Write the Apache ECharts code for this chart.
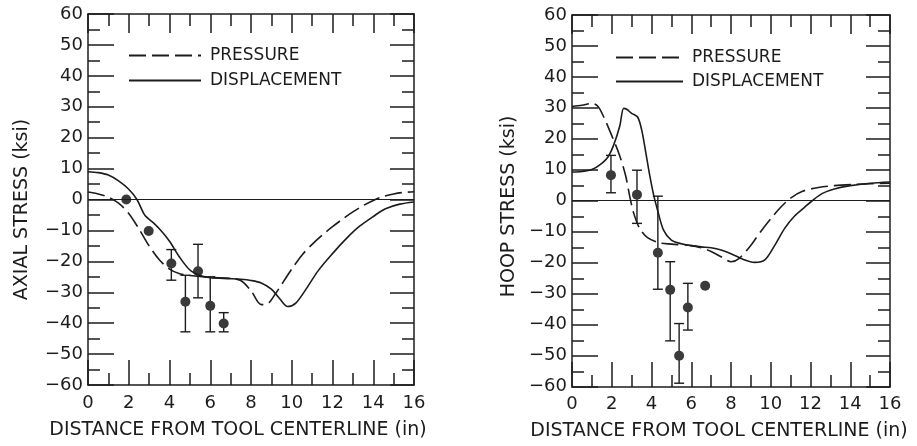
<!DOCTYPE html>
<html>
<head>
<meta charset="utf-8">
<script src="https://cdn.jsdelivr.net/npm/echarts@6/dist/echarts.min.js"></script>
<style>
  body { margin: 0; background: #fff; }
  .panel { position: relative; width: 458px; height: 446px; float: left; }
  #hoop { width: 459px; }
  .layer { position: absolute; left: 0; top: 0; width: 100%; height: 100%; }
</style>
</head>
<body>
<div id="axial" class="panel"></div>
<div id="hoop" class="panel"></div>
<script>
// values (x in inches, stress in ksi)
var axialPressure = [[0, 2.4], [0.5, 1.8], [1.0, 0.8], [1.5, -1.2], [2.0, -4.5], [2.5, -9.5], [3.0, -15], [3.5, -19.5], [4.0, -22.5], [4.5, -24], [5.0, -24.6], [6.0, -25.2], [7.0, -25.5], [7.5, -26.2], [8.0, -29.5], [8.5, -34], [8.8, -33.8], [9.2, -30.5], [9.6, -26.5], [10.0, -22.5], [10.5, -18], [11.0, -14.5], [11.5, -11.5], [12.0, -8.8], [12.5, -6.3], [13.0, -4.0], [13.5, -2], [14.0, -0.3], [14.5, 1.0], [15.0, 1.8], [15.5, 2.3], [16.0, 2.5]];
var axialDisplacement = [[0, 9], [0.5, 8.7], [1.0, 7.9], [1.5, 6], [2.0, 3.3], [2.4, 0], [2.8, -5.2], [3.2, -7.5], [3.6, -10.2], [4.0, -13.5], [4.5, -18.7], [5.0, -22.8], [5.5, -24.6], [6.0, -25.3], [7.0, -25.6], [7.5, -25.8], [8.0, -26.2], [8.5, -27], [9.0, -29], [9.4, -32], [9.8, -34.6], [10.2, -33.5], [10.7, -29], [11.3, -23], [12.0, -17.5], [12.7, -12.5], [13.3, -8.8], [14.0, -5.5], [14.6, -3], [15.3, -1.5], [16.0, -0.8]];
var axialTestX = [1.88, 2.98, 4.09, 4.78, 5.4, 6.0, 6.66];
var axialTestY = [0, -10.2, -20.7, -33.1, -23.2, -34.4, -40.1];
var axialTestLo = [null, null, -26.1, -42.8, -31.8, -42.8, -42.8];
var axialTestHi = [null, null, -16.2, -24.5, -14.5, -25, -36.6];

var hoopPressure = [[0, 30.4], [0.5, 30.8], [1.0, 31.4], [1.3, 30.5], [1.6, 27], [2.0, 21], [2.4, 14.5], [2.7, 8], [2.9, 1.5], [3.1, -4], [3.4, -9], [3.8, -12], [4.4, -13.7], [5.0, -14.1], [6.0, -14.6], [6.5, -15.3], [7.0, -16.5], [7.5, -18.2], [8.0, -19.8], [8.4, -18.8], [9.0, -14.5], [9.5, -10], [10.0, -5.9], [10.5, -2.2], [11.0, 0.8], [11.6, 3], [12.4, 4.2], [13.2, 4.8], [14.2, 5.2], [15.0, 5.4], [16.0, 5.6]];
var hoopDisplacement = [[0, 9.2], [0.5, 9.4], [1.0, 10], [1.4, 11.5], [1.8, 14], [2.1, 18], [2.4, 24], [2.6, 29.8], [2.75, 29.5], [3.0, 28.2], [3.3, 27], [3.5, 23], [3.7, 16], [3.9, 8.5], [4.1, 2], [4.3, -3], [4.6, -9.5], [5.0, -12.8], [5.5, -14], [6.0, -14.6], [6.5, -15], [7.0, -15.3], [7.5, -16], [8.0, -17.2], [8.6, -19], [9.2, -20], [9.7, -19.2], [10.2, -14.5], [10.7, -9], [11.2, -5], [11.7, -2.2], [12.1, 0], [12.6, 2.3], [13.2, 3.7], [14.0, 4.8], [15.0, 5.6], [16.0, 6.0]];
var hoopTestX = [1.96, 3.27, 4.32, 4.94, 5.39, 5.83, 6.7];
var hoopTestY = [8.2, 1.9, -16.9, -28.9, -50.2, -34.6, -27.6];
var hoopTestLo = [2.5, -7.4, -28.7, -45.4, -59.1, -41.9, null];
var hoopTestHi = [14.6, 9.8, 1.4, -19.8, -39.8, -26.8, null];

var xRange = [0, 16], xStep = 2;
var yRange = [-60, 60], yStep = 10;
var xTitle = 'DISTANCE FROM TOOL CENTERLINE (in)';
var legendNames = ['PRESSURE', 'DISPLACEMENT'];

var ink = '#1c1c1c';
var font = 'DejaVu Sans';

function minus(v) { return String(v).replace('-', '\u2212'); }

// frame layer: only the box and the inward ticks
function frameAxis(dim, pos, major) {
  var x = dim === 'x';
  return {
    type: 'value', position: pos,
    min: x ? xRange[0] : yRange[0], max: x ? xRange[1] : yRange[1], interval: x ? xStep : yStep,
    axisLine: { show: true, onZero: false, lineStyle: { color: ink, width: 1.5 } },
    axisTick: { show: true, inside: true, length: major, lineStyle: { color: ink, width: 1.5 } },
    minorTick: { show: true, splitNumber: 2, length: 12, lineStyle: { color: ink, width: 1.5 } },
    splitLine: { show: false },
    axisLabel: { show: false }
  };
}

// marks layer: labels and titles, no lines
function labelAxis(dim, pos, name, gap, pad) {
  var x = dim === 'x';
  return {
    type: 'value', position: pos,
    min: x ? xRange[0] : yRange[0], max: x ? xRange[1] : yRange[1], interval: x ? xStep : yStep,
    axisLine: { show: false, onZero: false },
    axisTick: { show: false },
    splitLine: { show: false },
    axisLabel: { color: ink, fontFamily: font, fontSize: 18, margin: x ? 9 : 5, formatter: minus },
    name: name, nameLocation: 'middle', nameGap: gap,
    nameTextStyle: { color: ink, fontFamily: font, fontSize: 19, padding: pad }
  };
}

function errorData(xs, lo, hi) {
  var out = [];
  for (var i = 0; i < xs.length; i++) {
    if (lo[i] !== null) out.push([xs[i], lo[i], hi[i]]);
  }
  return out;
}

function zip(xs, ys) {
  var out = [];
  for (var i = 0; i < xs.length; i++) out.push([xs[i], ys[i]]);
  return out;
}

function drawPanel(id, p) {
  var box = document.getElementById(id);
  var under = document.createElement('div');
  var over = document.createElement('div');
  under.className = 'layer';
  over.className = 'layer';
  box.appendChild(under);
  box.appendChild(over);

  echarts.init(under).setOption({
    animation: false,
    grid: p.grid,
    xAxis: [frameAxis('x', 'bottom', 25), frameAxis('x', 'top', 19)],
    yAxis: [frameAxis('y', 'left', 26), frameAxis('y', 'right', 24)],
    series: [{ type: 'line', data: [] }]
  });

  echarts.init(over).setOption({
    animation: false,
    grid: p.grid,
    xAxis: labelAxis('x', 'bottom', xTitle, 36, p.xPad),
    yAxis: labelAxis('y', 'left', p.yTitle, p.yGap, p.yPad),
    legend: {
      data: legendNames, orient: 'vertical', left: p.legend[0], top: p.legend[1],
      itemWidth: p.legend[2], itemHeight: 14, itemGap: p.legend[3], selectedMode: false,
      itemStyle: { opacity: 0 },
      textStyle: { color: ink, fontFamily: font, fontSize: 17, padding: [0, 0, 0, 4] }
    },
    series: [
      {
        name: 'PRESSURE', type: 'line',
        data: p.pressure, smooth: 0.3, symbol: 'none',
        itemStyle: { color: ink },
        lineStyle: { color: ink, width: 1.6, type: [17, 6] },
        markLine: {
          silent: true, symbol: ['none', 'none'], label: { show: false },
          lineStyle: { color: ink, width: 1, type: 'solid' },
          data: [{ yAxis: 0 }]
        }
      },
      {
        name: 'DISPLACEMENT', type: 'line',
        data: p.displacement, smooth: 0.3, symbol: 'none',
        itemStyle: { color: ink },
        lineStyle: { color: ink, width: 1.6, type: 'solid' }
      },
      {
        type: 'custom',
        data: errorData(p.tx, p.lo, p.hi),
        encode: { x: 0, y: [1, 2] },
        renderItem: function (params, api) {
          var a = api.coord([api.value(0), api.value(1)]);
          var b = api.coord([api.value(0), api.value(2)]);
          var w = 5, st = { stroke: ink, lineWidth: 1.4 };
          return {
            type: 'group',
            children: [
              { type: 'line', shape: { x1: a[0], y1: a[1], x2: b[0], y2: b[1] }, style: st },
              { type: 'line', shape: { x1: a[0] - w, y1: a[1], x2: a[0] + w, y2: a[1] }, style: st },
              { type: 'line', shape: { x1: b[0] - w, y1: b[1], x2: b[0] + w, y2: b[1] }, style: st }
            ]
          };
        }
      },
      {
        type: 'scatter',
        data: zip(p.tx, p.ty), symbolSize: 10,
        itemStyle: { color: '#3a3a3a', opacity: 1 }
      }
    ]
  });
}

drawPanel('axial', {
  grid: { left: 88, top: 14, width: 326, height: 371 },
  xPad: [0, 26, 0, 0], yTitle: 'AXIAL STRESS (ksi)', yGap: 56, yPad: [0, 20, 0, 0],
  legend: [123, 42, 72, 8],
  pressure: axialPressure, displacement: axialDisplacement,
  tx: axialTestX, ty: axialTestY, lo: axialTestLo, hi: axialTestHi
});

drawPanel('hoop', {
  grid: { left: 114, top: 15, width: 318, height: 372 },
  xPad: [0, 24, 0, 0], yTitle: 'HOOP STRESS (ksi)', yGap: 53, yPad: [0, 12, 0, 0],
  legend: [152, 44, 67, 7],
  pressure: hoopPressure, displacement: hoopDisplacement,
  tx: hoopTestX, ty: hoopTestY, lo: hoopTestLo, hi: hoopTestHi
});
</script>
</body>
</html>
